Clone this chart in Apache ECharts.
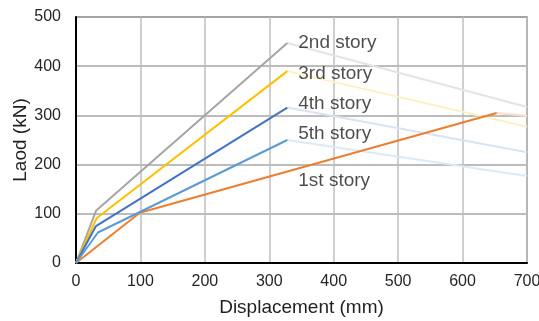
<!DOCTYPE html>
<html><head><meta charset="utf-8">
<script src="https://cdn.jsdelivr.net/npm/echarts@6/dist/echarts.min.js"></script>
<style>html,body{margin:0;padding:0;background:#fff}#c{width:539px;height:321px}</style>
</head><body><div id="c"></div>
<script>
const storyNames = ['1st story','2nd story','3rd story','4th story','5th story'];
const storyColors = ['#ED7D31','#A5A5A5','#FFC000','#4472C4','#5B9BD5'];
const fadeColors = ['#F9DCCB','#E4E4E4','#FFF0C6','#D9E3F3','#DCE9F6'];
// main curves [displacement, load]
const s1 = [[0,0],[99,102],[653,305]];
const s2 = [[0,0],[31,106],[328,447]];
const s3 = [[0,0],[32,91],[328,390]];
const s4 = [[0,0],[31,75],[328,316]];
const s5 = [[0,0],[34,62],[328,250]];
// faded continuation
const f1 = [[653,305],[700,299]];
const f2 = [[328,447],[700,317]];
const f3 = [[328,390],[700,277]];
const f4 = [[328,316],[700,225]];
const f5 = [[328,250],[700,177]];
const labelPos = [[345,167],[345,447],[345,385],[345,323],[345,262]];
const xTicks = [0,100,200,300,400,500,600,700];
const yTicks = [0,100,200,300,400,500];

const FF = 'Liberation Sans, Arial, sans-serif';
const mains = [s1,s2,s3,s4,s5];
const fades = [f1,f2,f3,f4,f5];
const series = [];
fades.forEach((d,i)=>series.push({type:'line',data:d,symbol:'none',silent:true,lineStyle:{color:fadeColors[i],width:2},z:1}));
mains.forEach((d,i)=>series.push({type:'line',name:storyNames[i],data:d,symbol:'none',lineStyle:{color:storyColors[i],width:2},z:2}));
series.push({type:'scatter',data:labelPos.map((p,i)=>({value:p,name:storyNames[i]})),symbolSize:0,
  label:{show:true,position:'right',distance:0,formatter:p=>p.name,color:'#1F1F1F',fontSize:19,fontFamily:FF},z:3});

const chart = echarts.init(document.getElementById('c'));
chart.setOption({
  animation:false,
  grid:{left:76,right:12,top:17,bottom:58,containLabel:false,outerBoundsMode:'none',show:true,borderColor:'#7F7F7F',borderWidth:1.5},
  xAxis:{type:'value',min:0,max:700,interval:100,name:'Displacement (mm)',nameLocation:'middle',nameGap:35,nameMoveOverlap:false,
    nameTextStyle:{fontSize:19,color:'#1F1F1F',fontFamily:FF},
    axisLine:{lineStyle:{color:'#000',width:2}},axisTick:{show:false},
    axisLabel:{fontSize:16,color:'#262626',margin:11,fontFamily:FF},
    splitLine:{lineStyle:{color:'#BFBFBF',width:1.5}}},
  yAxis:{type:'value',min:0,max:500,interval:100,name:'Laod (kN)',nameLocation:'middle',nameGap:46,nameMoveOverlap:false,
    nameTextStyle:{fontSize:19,color:'#1F1F1F',fontFamily:FF},
    axisLine:{show:true,lineStyle:{color:'#000',width:2}},axisTick:{show:false},
    axisLabel:{fontSize:16,color:'#262626',margin:15,fontFamily:FF},
    splitLine:{lineStyle:{color:'#A6A6A6',width:1.5}}},
  series:series
});
</script></body></html>
